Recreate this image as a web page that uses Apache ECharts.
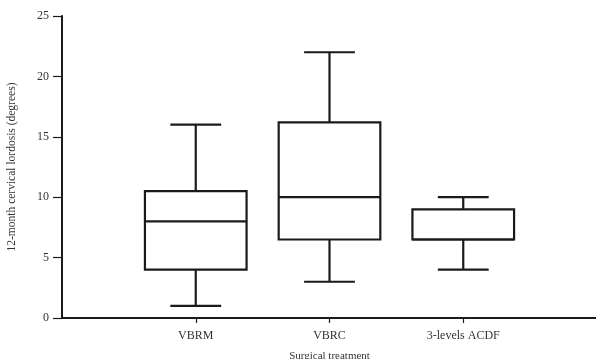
<!DOCTYPE html>
<html>
<head>
<meta charset="utf-8">
<script src="https://cdn.jsdelivr.net/npm/echarts@6/dist/echarts.min.js"></script>
<style>
  html, body { margin: 0; padding: 0; background: #fff; }
  #chart { width: 596px; height: 359px; }
</style>
</head>
<body>
<div id="chart"></div>
<script>
// Treatment groups (empty slots pad the axis at both ends)
const categories = ['', 'VBRM', 'VBRC', '3-levels ACDF', ''];
// Five-number summaries per group: [min, Q1, median, Q3, max]
const groupNames = ['VBRM', 'VBRC', '3-levels ACDF'];
const minValues = [1, 3, 4];
const q1Values = [4, 6.5, 6.5];
const medianValues = [8, 10, 6.5];
const q3Values = [10.5, 16.2, 9];
const maxValues = [16, 22, 10];
const yTicks = [0, 5, 10, 15, 20, 25];

const boxData = groupNames.map((name, i) =>
  [name, minValues[i], q1Values[i], medianValues[i], q3Values[i], maxValues[i]]);

const chart = echarts.init(document.getElementById('chart'));
const ink = '#1a1a1a';
const serif = '"Liberation Serif", "DejaVu Serif", serif';

function renderBox(params, api) {
  const cat = api.value(0);
  const pMin = api.coord([cat, api.value(1)]);
  const pQ1 = api.coord([cat, api.value(2)]);
  const pMed = api.coord([cat, api.value(3)]);
  const pQ3 = api.coord([cat, api.value(4)]);
  const pMax = api.coord([cat, api.value(5)]);
  const band = api.size([1, 0])[0];
  const half = band * 0.38;
  const cap = half / 2;
  const x = pQ1[0];
  const style = { stroke: ink, lineWidth: 2.2, fill: null };
  return {
    type: 'group',
    children: [
      { type: 'rect', shape: { x: x - half, y: pQ3[1], width: half * 2, height: pQ1[1] - pQ3[1] },
        style: { stroke: ink, lineWidth: 2.2, fill: '#fff' } },
      { type: 'line', shape: { x1: x - half, y1: pMed[1], x2: x + half, y2: pMed[1] }, style },
      { type: 'line', shape: { x1: x, y1: pQ3[1], x2: x, y2: pMax[1] }, style },
      { type: 'line', shape: { x1: x, y1: pQ1[1], x2: x, y2: pMin[1] }, style },
      { type: 'line', shape: { x1: x - cap, y1: pMax[1], x2: x + cap, y2: pMax[1] }, style },
      { type: 'line', shape: { x1: x - cap, y1: pMin[1], x2: x + cap, y2: pMin[1] }, style }
    ]
  };
}

chart.setOption({
  animation: false,
  backgroundColor: '#fff',
  grid: { left: 62, right: -1, top: 16, bottom: 41, containLabel: false, outerBoundsMode: 'none' },
  xAxis: {
    type: 'category',
    data: categories,
    boundaryGap: false,
    name: 'Surgical treatment',
    nameLocation: 'middle',
    nameGap: 33,
    nameTextStyle: { fontFamily: serif, fontSize: 11, color: '#333' },
    axisLine: { lineStyle: { color: ink, width: 2 } },
    axisTick: { length: 5, lineStyle: { color: ink, width: 1.2 },
      interval: (idx, val) => val !== '' },
    axisLabel: { fontFamily: serif, fontSize: 12, color: '#333', margin: 12,
      interval: 0 },
    splitLine: { show: false }
  },
  yAxis: {
    type: 'value',
    min: yTicks[0],
    max: yTicks[yTicks.length - 1],
    interval: 5,
    name: '12-month cervical lordosis (degrees)',
    nameLocation: 'middle',
    nameGap: 44,
    nameRotate: 90,
    nameTextStyle: { fontFamily: serif, fontSize: 11.5, color: '#333' },
    axisLine: { show: true, lineStyle: { color: ink, width: 2 } },
    axisTick: { show: true, inside: false, length: 9, lineStyle: { color: ink, width: 1.2 } },
    axisLabel: { fontFamily: serif, fontSize: 12, color: '#333', margin: 13 },
    splitLine: { show: false }
  },
  series: [{
    type: 'custom',
    renderItem: renderBox,
    encode: { x: 0, y: [1, 2, 3, 4, 5] },
    data: boxData,
    z: 3
  }]
});
</script>
</body>
</html>
